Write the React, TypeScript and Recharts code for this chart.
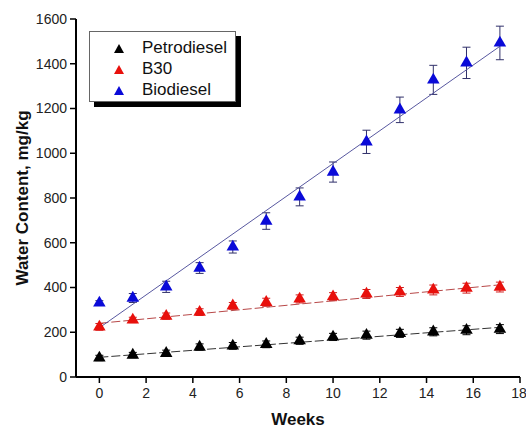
import {
  ComposedChart,
  ErrorBar,
  Label,
  Legend,
  Scatter,
  XAxis,
  YAxis,
  ZAxis,
} from "recharts";

// sampling times (weeks)
const weeks = [0, 1.43, 2.86, 4.29, 5.71, 7.14, 8.57, 10, 11.43, 12.86, 14.29, 15.71, 17.14];

// water content, mg/kg, with +/- error
const petro = [85, 98, 106, 134, 139, 146, 162, 179, 187, 195, 202, 209, 214];
const petroErr = [12, 12, 14, 14, 15, 15, 16, 16, 18, 18, 18, 20, 20];
const b30 = [224, 255, 272, 290, 318, 334, 349, 359, 371, 380, 389, 397, 402];
const b30Err = [15, 12, 14, 15, 15, 18, 18, 18, 20, 20, 22, 22, 22];
const bio = [331, 353, 403, 487, 581, 697, 805, 916, 1051, 1194, 1328, 1404, 1493];
const bioErr = [10, 20, 25, 24, 27, 37, 40, 45, 52, 57, 65, 70, 75];

// linear fit end points
const fitWeeks = [0, 17.14];
const petroFit = [88, 222];
const b30Fit = [240, 412];
const bioFit = [220, 1478];

const xTicks = [0, 2, 4, 6, 8, 10, 12, 14, 16, 18];
const yTicks = [0, 200, 400, 600, 800, 1000, 1200, 1400, 1600];

const series = [
  { name: "Petrodiesel", values: petro, err: petroErr, fit: petroFit, color: "#000000", bar: "#000000", fitColor: "#333333", dash: "9 3" },
  { name: "B30", values: b30, err: b30Err, fit: b30Fit, color: "#e8100c", bar: "#d02020", fitColor: "#b84848", dash: "9 3" },
  { name: "Biodiesel", values: bio, err: bioErr, fit: bioFit, color: "#0a0ad8", bar: "#30306a", fitColor: "#5858a0", dash: undefined },
];

const toPoints = (vals: number[], errs: number[]) =>
  weeks.map((w, i) => ({ x: w, y: vals[i], err: errs[i] }));

const toFit = (vals: number[]) => fitWeeks.map((w, i) => ({ x: w, y: vals[i] }));

const LegendBox = () => (
  <div
    style={{
      width: 145,
      height: 69,
      background: "#fff",
      border: "1px solid #666",
      boxShadow: "5px 5px 0 #000",
      position: "relative",
    }}
  >
    {series.map((s, i) => (
      <div
        key={s.name}
        style={{
          position: "absolute",
          left: 24,
          top: 6 + i * 21,
          height: 20,
          display: "flex",
          alignItems: "center",
          fontSize: 17,
          color: "#111",
        }}
      >
        <svg width={10} height={9}>
          <polygon points="5,0 10,9 0,9" fill={s.color} />
        </svg>
        <span style={{ marginLeft: 18 }}>{s.name}</span>
      </div>
    ))}
  </div>
);

const App = () => {
  return (
    <div
      style={{
        position: "absolute",
        left: 0,
        top: 0,
        fontFamily: "'Liberation Sans', Arial, sans-serif",
        background: "#fff",
      }}
    >
      <ComposedChart
        width={526}
        height={430}
        margin={{ top: 19, right: 6, bottom: 23, left: 16 }}
      >
        <XAxis
          dataKey="x"
          type="number"
          domain={[-1, 18]}
          ticks={xTicks}
          allowDataOverflow
          height={30}
          axisLine={{ stroke: "#000", strokeWidth: 2 }}
          tickLine={{ stroke: "#000", strokeWidth: 1.5 }}
          tickSize={6}
          tickMargin={5}
          tick={{ fill: "#222", fontSize: 14 }}
        >
          <Label
            value="Weeks"
            position="bottom"
            offset={6}
            style={{ fontWeight: "bold", fontSize: 17, fill: "#111" }}
          />
        </XAxis>
        <XAxis
          xAxisId="top"
          orientation="top"
          type="number"
          domain={[-1, 18]}
          height={0}
          tick={false}
          tickLine={false}
          axisLine={{ stroke: "#666", strokeWidth: 1.5 }}
        />
        <YAxis
          type="number"
          domain={[0, 1600]}
          ticks={yTicks}
          width={60}
          axisLine={{ stroke: "#000", strokeWidth: 2 }}
          tickLine={{ stroke: "#000", strokeWidth: 1.5 }}
          tickSize={6}
          tickMargin={3}
          tick={{ fill: "#222", fontSize: 14 }}
        >
          <Label
            value="Water Content, mg/kg"
            angle={-90}
            position="insideLeft"
            offset={6}
            textAnchor="middle"
            style={{ fontWeight: "bold", fontSize: 17, fill: "#111" }}
          />
        </YAxis>
        <YAxis
          yAxisId="right"
          orientation="right"
          type="number"
          domain={[0, 1600]}
          width={0}
          tick={false}
          tickLine={false}
          axisLine={{ stroke: "#333", strokeWidth: 1.5 }}
        />
        <ZAxis range={[68, 68]} />
        {series.map((s) => (
          <Scatter
            key={s.name + "-fit"}
            name={s.name + " fit"}
            data={toFit(s.fit)}
            dataKey="y"
            line={{ stroke: s.fitColor, strokeWidth: 1, strokeDasharray: s.dash }}
            shape={() => <g />}
            isAnimationActive={false}
          />
        ))}
        {series.map((s) => (
          <Scatter
            key={s.name}
            name={s.name}
            data={toPoints(s.values, s.err)}
            dataKey="y"
            fill={s.color}
            shape="triangle"
            isAnimationActive={false}
          >
            <ErrorBar dataKey="err" direction="y" width={4} stroke={s.bar} strokeWidth={1} />
          </Scatter>
        ))}
        <Legend
          layout="horizontal"
          verticalAlign="middle"
          align="center"
          content={() => <LegendBox />}
          wrapperStyle={{ left: 89, top: 31, width: "auto", height: "auto" }}
        />
      </ComposedChart>
    </div>
  );
};

export default App;
